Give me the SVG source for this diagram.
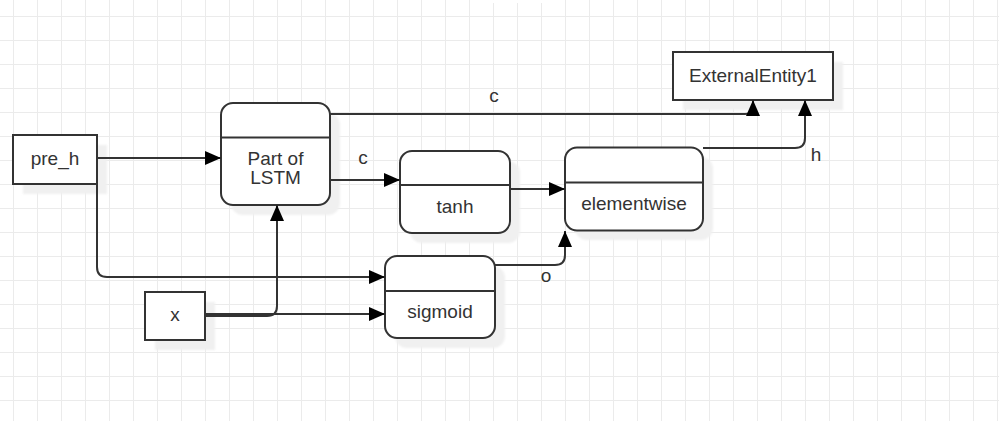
<svg xmlns="http://www.w3.org/2000/svg" width="999" height="421" viewBox="0 0 999 421">
  <defs>
    <pattern id="grid" width="24" height="24" patternUnits="userSpaceOnUse" x="13" y="16">
      <path d="M0.5 0 V24 M0 0.5 H24" fill="none" stroke="#ebebeb" stroke-width="1"/>
    </pattern>
    <marker id="arrow" markerUnits="userSpaceOnUse" markerWidth="16" markerHeight="14" refX="16" refY="7" orient="auto">
      <path d="M0,0 L16,7 L0,14 z" fill="#000"/>
    </marker>
    <filter id="soft" x="-10%" y="-10%" width="120%" height="120%">
      <feGaussianBlur stdDeviation="0.8"/>
    </filter>
  </defs>
  <style>
    .box { fill: #fff; stroke: #333; stroke-width: 2; }
    .shadow { fill: #f0f0f0; stroke: none; filter: url(#soft); }
    .divider { stroke: #333; stroke-width: 2; fill: none; }
    .label { font-family: "Liberation Sans", Arial, sans-serif; font-size: 19px; fill: #333; text-anchor: middle; }
    .edge { fill: none; stroke: #333; stroke-width: 2; }
    .arrowed { marker-end: url(#arrow); }
  </style>

  <!-- canvas -->
  <rect x="0" y="0" width="999" height="421" fill="#fff"/>
  <rect x="0" y="0" width="999" height="421" fill="url(#grid)"/>
  <rect x="476" y="0" width="89" height="3" fill="#fff"/>

  <!-- external entity: pre_h -->
  <g id="pre_h">
    <rect class="shadow" x="23" y="145" width="84" height="49"/>
    <rect class="box" x="13" y="135" width="84" height="49"/>
    <text class="label" x="55" y="165">pre_h</text>
  </g>

  <!-- external entity: x -->
  <g id="x">
    <rect class="shadow" x="155" y="302" width="60" height="48"/>
    <rect class="box" x="145" y="292" width="60" height="48"/>
    <text class="label" x="175" y="321">x</text>
  </g>

  <!-- process: Part of LSTM -->
  <g id="lstm">
    <rect class="shadow" x="231" y="113" width="109" height="102" rx="12"/>
    <rect class="box" x="221" y="103" width="109" height="102" rx="12"/>
    <line class="divider" x1="221" y1="137.5" x2="330" y2="137.5"/>
    <text class="label" x="275.5" y="165">Part of</text>
    <text class="label" x="275.5" y="184">LSTM</text>
  </g>

  <!-- process: tanh -->
  <g id="tanh">
    <rect class="shadow" x="410" y="161" width="110" height="82" rx="12"/>
    <rect class="box" x="400" y="151" width="110" height="82" rx="12"/>
    <line class="divider" x1="400" y1="185" x2="510" y2="185"/>
    <text class="label" x="455" y="213">tanh</text>
  </g>

  <!-- process: elementwise -->
  <g id="elementwise">
    <rect class="shadow" x="575" y="157" width="138" height="83" rx="12"/>
    <rect class="box" x="565" y="147.5" width="138" height="83" rx="12"/>
    <line class="divider" x1="565" y1="182.5" x2="703" y2="182.5"/>
    <text class="label" x="634" y="209.5">elementwise</text>
  </g>

  <!-- process: sigmoid -->
  <g id="sigmoid">
    <rect class="shadow" x="395" y="266" width="110" height="82" rx="12"/>
    <rect class="box" x="385" y="256" width="110" height="82" rx="12"/>
    <line class="divider" x1="385" y1="291" x2="495" y2="291"/>
    <text class="label" x="440" y="318">sigmoid</text>
  </g>

  <!-- external entity: ExternalEntity1 -->
  <g id="external_entity1">
    <rect class="shadow" x="683" y="62" width="160" height="48"/>
    <rect class="box" x="673" y="52" width="160" height="48"/>
    <text class="label" x="753" y="82">ExternalEntity1</text>
  </g>

  <!-- data flows, drawn over the node shadows -->
  <g id="connectors">
    <path class="edge arrowed" d="M97,158 H221"/>
    <path class="edge arrowed" d="M97,184 V267 Q97,277 107,277 H385"/>
    <path class="edge arrowed" d="M205,316 H267 Q277,316 277,306 V205"/>
    <path class="edge arrowed" d="M205,314 H385"/>
    <path class="edge arrowed" d="M330,114 H745 Q753,114 753,107 V100"/>
    <path class="edge arrowed" d="M330,180 H400"/>
    <path class="edge arrowed" d="M510,189 H565"/>
    <path class="edge arrowed" d="M495,265 H555 Q565,265 565,255 V231"/>
    <path class="edge arrowed" d="M703,148 H795 Q805,148 805,138 V100"/>
    <text class="label" x="494" y="102">c</text>
    <text class="label" x="363" y="164">c</text>
    <text class="label" x="816" y="161">h</text>
    <text class="label" x="546" y="282">o</text>
  </g>
</svg>
